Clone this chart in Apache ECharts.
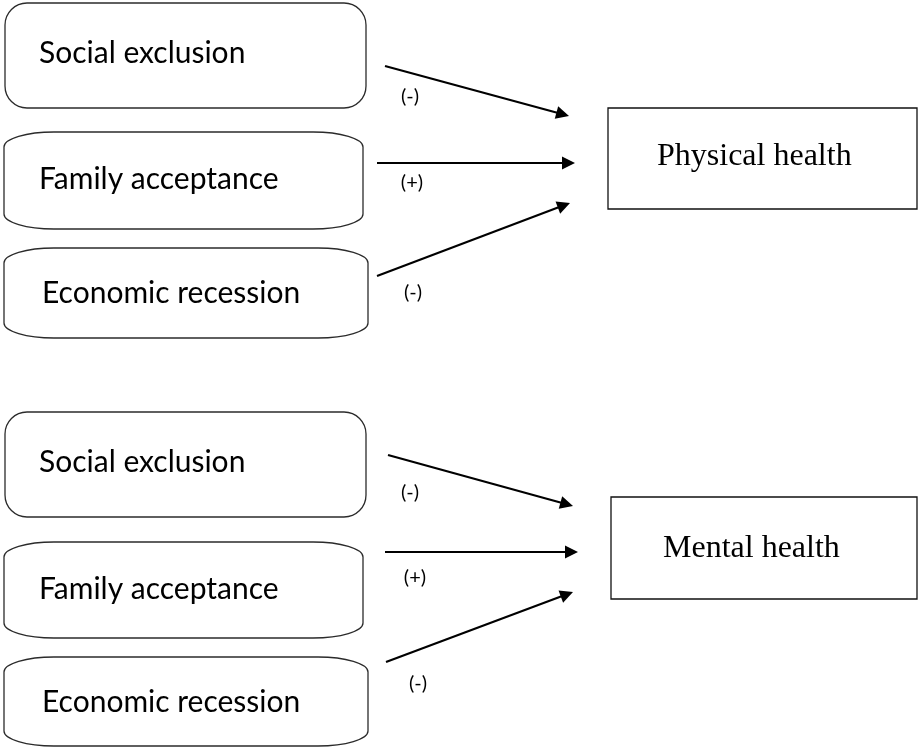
<!DOCTYPE html>
<html>
<head>
<meta charset="utf-8">
<title>Predictors of physical and mental health</title>
<script src="https://cdn.jsdelivr.net/npm/echarts@6/dist/echarts.min.js"></script>
<style>
  html, body { margin: 0; padding: 0; background: #fff; }
  #chart { width: 918px; height: 747px; }
</style>
</head>
<body>
<div id="chart"></div>
<script>
// ---- data ----
const predictors = ["Social exclusion", "Family acceptance", "Economic recession"];
const outcomes = ["Physical health", "Mental health"];
const signs = ["(-)", "(+)", "(-)"];

// ---- layout, in the units of the hidden 918 x 747 plane ----
const predLeft = [5, 4, 4];
const predRight = [366, 363, 368];
const predTop = [[3, 132, 248], [412, 542, 657]];
const predBottom = [[108, 229, 338], [517, 638, 746]];
const predShape = ["round", "drum", "drum"];
const predTextX = [39, 39, 42];
const predBaseline = [59, 56, 54]; // below box top

const outBox = [[608, 108, 917, 209], [611, 497, 917, 599]];
const outTextX = [657, 663];
const outBaseline = [167, 559];

const arrowFrom = [[[385, 66], [377, 163], [377, 276]], [[388, 455], [385, 552], [386, 662]]];
const arrowTo = [[[569, 116], [575, 163], [570, 203]], [[573, 506], [578, 552], [573, 592]]];
const signAt = [[[410, 97], [412, 183], [413, 293]], [[410, 493], [415, 578], [418, 684]]];

const predFont = "30px Lato";
const outFont = "32px 'Liberation Serif'";
const signFont = "20px Lato";
const headLen = 13;

const pairs = [];
outcomes.forEach((_, g) => predictors.forEach((_, r) => pairs.push([g, r])));

function drumPath(x0, y0, x1, y1, rx, ry) {
  return [
    "M", x0 + rx, y0, "L", x1 - rx, y0,
    "A", rx, ry, 0, 0, 1, x1, y0 + ry,
    "L", x1, y1 - ry,
    "A", rx, ry, 0, 0, 1, x1 - rx, y1,
    "L", x0 + rx, y1,
    "A", rx, ry, 0, 0, 1, x0, y1 - ry,
    "L", x0, y0 + ry,
    "A", rx, ry, 0, 0, 1, x0 + rx, y0, "Z",
  ].join(" ");
}

function renderPredictor(params, api) {
  const g = api.value(0);
  const r = api.value(1);
  const [x0, y0] = api.coord([predLeft[r], predTop[g][r]]);
  const [x1, y1] = api.coord([predRight[r], predBottom[g][r]]);
  const boxStyle = { fill: "#fff", stroke: "#2b2b2b", lineWidth: 1.3 };
  const box = predShape[r] === "round"
    ? { type: "rect", shape: { x: x0, y: y0, width: x1 - x0, height: y1 - y0, r: 22 }, style: boxStyle }
    : { type: "path", shape: { pathData: drumPath(x0, y0, x1, y1, 50, 15) }, style: boxStyle };
  const [tx, ty] = api.coord([predTextX[r], predTop[g][r] + predBaseline[r]]);
  return {
    type: "group",
    children: [
      box,
      { type: "text", style: { text: predictors[r], x: tx, y: ty - 9, font: predFont, fill: "#000", align: "left", verticalAlign: "middle" } },
    ],
  };
}

function renderOutcome(params, api) {
  const g = api.value(0);
  const [x0, y0] = api.coord([outBox[g][0], outBox[g][1]]);
  const [x1, y1] = api.coord([outBox[g][2], outBox[g][3]]);
  const [tx, ty] = api.coord([outTextX[g], outBaseline[g]]);
  return {
    type: "group",
    children: [
      { type: "rect", shape: { x: x0, y: y0, width: x1 - x0, height: y1 - y0 }, style: { fill: "#fff", stroke: "#111", lineWidth: 1.3 } },
      { type: "text", style: { text: outcomes[g], x: tx, y: ty - 10, font: outFont, fill: "#000", align: "left", verticalAlign: "middle" } },
    ],
  };
}

function renderSign(params, api) {
  const g = api.value(0);
  const r = api.value(1);
  const [x, y] = api.coord(signAt[g][r]);
  return { type: "text", style: { text: signs[r], x, y, font: signFont, fill: "#000", align: "center", verticalAlign: "middle" } };
}

// pull the line end back so the arrow head's tip sits on the target point
function arrowCoords([g, r]) {
  const [ax, ay] = arrowFrom[g][r];
  const [bx, by] = arrowTo[g][r];
  const len = Math.hypot(bx - ax, by - ay);
  const k = (len - headLen / 2) / len;
  return { coords: [[ax, ay], [ax + (bx - ax) * k, ay + (by - ay) * k]] };
}

const chart = echarts.init(document.getElementById("chart"), null, { renderer: "canvas" });
chart.setOption({
  animation: false,
  grid: { left: 0, right: 0, top: 0, bottom: 0 },
  xAxis: { type: "value", min: 0, max: 918, show: false },
  yAxis: { type: "value", min: 0, max: 747, inverse: true, show: false },
  series: [
    { type: "custom", name: "predictors", coordinateSystem: "cartesian2d", renderItem: renderPredictor, data: pairs, silent: true },
    { type: "custom", name: "outcomes", coordinateSystem: "cartesian2d", renderItem: renderOutcome, data: outcomes.map((_, g) => [g, 0]), silent: true },
    {
      type: "lines",
      name: "effects",
      coordinateSystem: "cartesian2d",
      symbol: ["none", "triangle"],
      symbolSize: [11, headLen],
      lineStyle: { color: "#000", width: 2.2, opacity: 1 },
      data: pairs.map(arrowCoords),
      silent: true,
    },
    { type: "custom", name: "signs", coordinateSystem: "cartesian2d", renderItem: renderSign, data: pairs, silent: true },
  ],
});
</script>
</body>
</html>
